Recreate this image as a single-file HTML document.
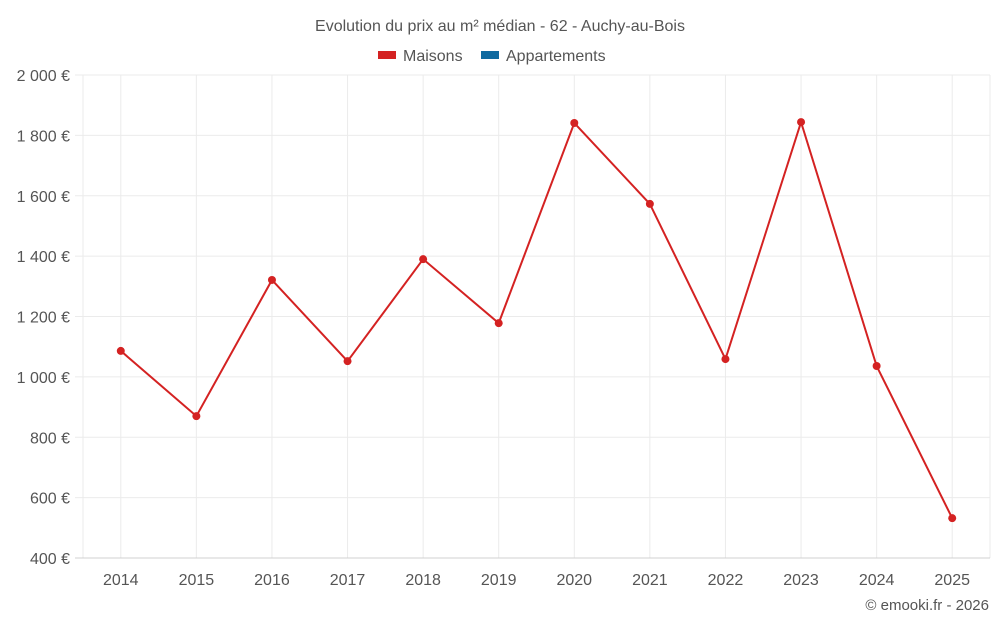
<!DOCTYPE html>
<html><head><meta charset="utf-8"><style>
body{margin:0;background:#fff;font-family:"Liberation Sans",sans-serif;}
svg text{font-family:"Liberation Sans",sans-serif;}
</style></head><body>
<svg id="chart" width="1000" height="625">
<text x="500" y="31" text-anchor="middle" font-size="16" fill="#555">Evolution du prix au m² médian - 62 - Auchy-au-Bois</text>
<g>
<g><rect x="378" y="51" width="18" height="8" fill="#d42222"/><text x="403" y="61" font-size="16" fill="#555">Maisons</text></g>
<g><rect x="481" y="51" width="18" height="8" fill="#0f6aa0"/><text x="506" y="61" font-size="16" fill="#555">Appartements</text></g>
</g>
<g id="grid"></g><g id="axes"></g><g id="series"></g>
<text x="989" y="610" text-anchor="end" font-size="15" fill="#555">© emooki.fr - 2026</text>
</svg>
<script>
const categories=["2014","2015","2016","2017","2018","2019","2020","2021","2022","2023","2024","2025"];
const maisons=[1086,870,1321,1052,1390,1178,1841,1573,1059,1844,1036,532];
const yTicks=[400,600,800,1000,1200,1400,1600,1800,2000];
const yTickLabels=["400 €","600 €","800 €","1 000 €","1 200 €","1 400 €","1 600 €","1 800 €","2 000 €"];
const L=83,R=990,T=75,B=558,yMin=400,yMax=2000;
const NS="http://www.w3.org/2000/svg";
function y(v){return B-(v-yMin)/(yMax-yMin)*(B-T);}
const band=(R-L)/categories.length;
function x(i){return L+band*(i+0.5);}
function mk(tag,attrs,parent){const e=document.createElementNS(NS,tag);for(const k in attrs)e.setAttribute(k,attrs[k]);document.getElementById(parent).appendChild(e);return e;}
[L,R].forEach(gx=>{
 const l=mk('line',{x1:gx,x2:gx,y1:T,y2:B,stroke:'#ebebeb'},'grid');
 
 
});
categories.forEach((c,i)=>{
 const l=mk('line',{x1:x(i),x2:x(i),y1:T,y2:B,stroke:'#ebebeb'},'grid');
 
 
 const tx=mk('text',{x:x(i),y:B+27,'text-anchor':'middle','font-size':16,fill:'#555'},'axes');
 tx.textContent=c;
 
 
});
yTicks.forEach((t,i)=>{
 const g=mk('line',{x1:L-8,x2:R,y1:y(t),y2:y(t),stroke:i===0?'#d0d0d0':'#ebebeb','stroke-width':1},'grid');
 
 
 const tx=mk('text',{x:70,y:y(t)+6,'text-anchor':'end','font-size':16,fill:'#555'},'axes');
 tx.textContent=yTickLabels[i];
 
 
});
const pl=mk('polyline',{points:maisons.map((v,i)=>x(i)+','+y(v)).join(' '),fill:'none',stroke:'#d42222','stroke-width':2},'series');


maisons.forEach((v,i)=>{
 const c=mk('circle',{cx:x(i),cy:y(v),r:4,fill:'#d42222'},'series');
 
 
});
</script>
</body></html>
